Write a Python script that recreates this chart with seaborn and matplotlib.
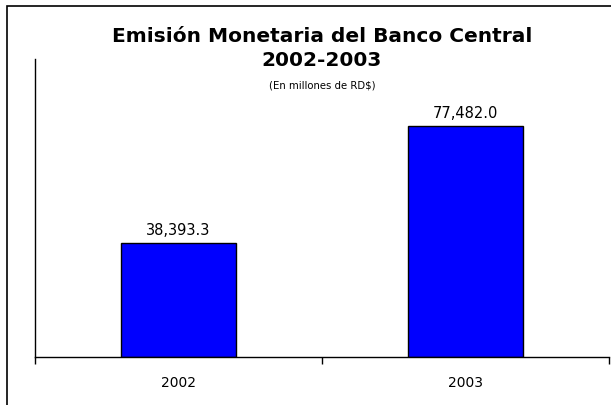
import numpy as np
import pandas as pd
import matplotlib
matplotlib.use("Agg")
import matplotlib.pyplot as plt
import seaborn as sns
from matplotlib.patches import Rectangle

years = ["2002", "2003"]
emision = [38393.3, 77482.0]
value_labels = ["38,393.3", "77,482.0"]

df = pd.DataFrame({"anio": years, "emision": emision})

sns.set_style("white")
plt.rcParams["font.family"] = ["DejaVu Sans"]
plt.rcParams["text.color"] = "black"
plt.rcParams["xtick.color"] = "black"
plt.rcParams["xtick.labelcolor"] = "black"

fig = plt.figure(figsize=(6.11, 4.06), dpi=100)
ax = fig.add_axes([35 / 611, 48 / 406, 574 / 611, 298 / 406])

sns.barplot(data=df, x="anio", y="emision", color="#0000FF", saturation=1,
            edgecolor="black", linewidth=1, width=0.4, ax=ax)

ax.set_xlim(-0.5, 1.5)
ax.set_ylim(0, 100000)
ax.set_xlabel("")
ax.set_ylabel("")
ax.set_yticks([])
for s in ["top", "right"]:
    ax.spines[s].set_visible(False)
for s in ["left", "bottom"]:
    ax.spines[s].set_color("black")
    ax.spines[s].set_linewidth(1)

# ticks between categories, labels centred under bars
ax.set_xticks([-0.5, 0.5, 1.5], minor=True)
ax.tick_params(axis="x", which="minor", bottom=True, length=5, width=1,
               color="black", direction="out")
ax.tick_params(axis="x", which="major", bottom=True, length=0, labelsize=10,
               labelcolor="black", pad=13)

for i, lab in enumerate(value_labels):
    ax.text(i, emision[i] + 2000, lab, ha="center", va="bottom", fontsize=10.5,
            color="black")

fig.text(322 / 611, 1 - 37 / 406, "Emisión Monetaria del Banco Central",
         ha="center", va="center", fontsize=14.5, fontweight="bold", color="black")
fig.text(322 / 611, 1 - 61 / 406, "2002-2003",
         ha="center", va="center", fontsize=14.5, fontweight="bold", color="black")
fig.text(322 / 611, 1 - 85 / 406, "(En millones de RD$)",
         ha="center", va="center", fontsize=7.3, color="black")

# outer chart-area frame (runs off the right and bottom edges)
fig.patches.append(Rectangle((7 / 611, -1), 2, 2 - 7 / 406, transform=fig.transFigure,
                             fill=False, edgecolor="black", linewidth=1.2))

fig.savefig("out.png", dpi=100)
